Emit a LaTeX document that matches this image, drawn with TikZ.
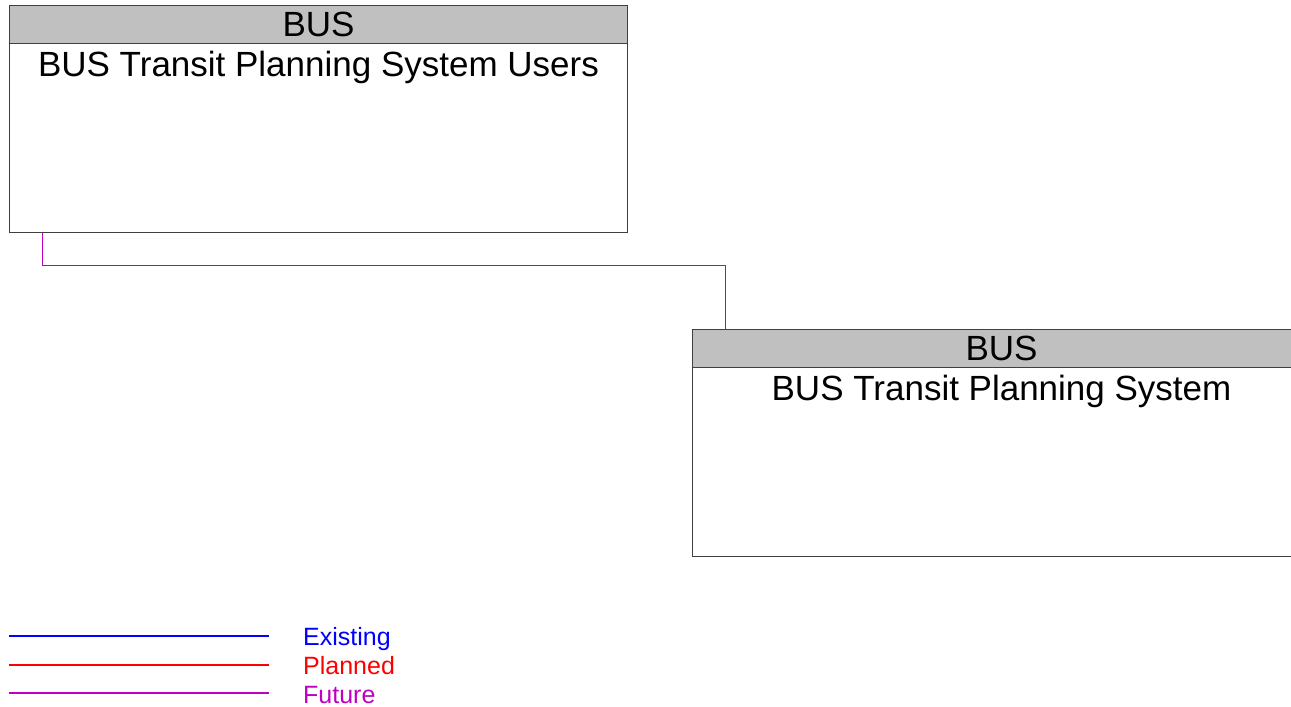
\documentclass[tikz,border=0pt]{standalone}
\usepackage{fontspec}
\setmainfont{Liberation Sans}
\definecolor{hdrgray}{RGB}{192,192,192}
\definecolor{boxline}{RGB}{64,64,64}
\definecolor{existc}{RGB}{0,0,255}
\definecolor{planc}{RGB}{255,0,0}
\definecolor{futc}{RGB}{192,0,192}
\tikzset{
  sysbox/.style={draw=boxline, line width=1pt, fill=white, rectangle, inner sep=0pt, minimum width=618pt, minimum height=227pt},
  hdrbox/.style={draw=boxline, line width=1pt, fill=hdrgray, rectangle, inner sep=0pt, minimum width=618pt, minimum height=38pt},
  bigtext/.style={font=\fontsize{35}{40}\selectfont, inner sep=0pt, text=black},
  legtext/.style={font=\fontsize{25}{29}\selectfont, inner sep=0pt, anchor=base west},
  flowline/.style={line width=1pt},
  legbar/.style={draw=none, inner sep=0pt, minimum width=260pt, minimum height=1.3pt, anchor=west},
}
\begin{document}
\begin{tikzpicture}[x=1pt,y=-1pt]
\useasboundingbox (0,0) rectangle (1291,707);
% upper box
\node[sysbox, anchor=north west] (u) at (9,5) {};
\node[hdrbox, anchor=north] (uh) at (u.north) {};
\node[bigtext, anchor=base] (uhl) at ([yshift=-31.5pt]u.north) {BUS};
\node[bigtext, anchor=base] (ut) at ([yshift=-71pt]u.north) {BUS Transit Planning System Users};
% lower box (runs past the right edge)
\begin{scope}
\clip (0,0) rectangle (1291,707);
\node[sysbox, anchor=north west] (t) at (692,329) {};
\node[hdrbox, anchor=north] (th) at (t.north) {};
\end{scope}
\node[bigtext, anchor=base] (thl) at ([yshift=-31.5pt]t.north) {BUS};
\node[bigtext, anchor=base] (tt) at ([yshift=-71pt]t.north) {BUS Transit Planning System};
% connector
\draw[flowline, futc] ([xshift=33pt]u.south west) -- ++(0,32) -| ([xshift=33pt]th.north west);
% legend
\node[legbar, fill=existc] (be) at (9,636) {};
\node[legbar, fill=planc] (bp) at (9,665) {};
\node[legbar, fill=futc] (bf) at (9,693) {};
\node[legtext, text=existc] (le) at (303,645) {Existing};
\node[legtext, text=planc] (lp) at (303,674) {Planned};
\node[legtext, text=futc] (lf) at (303,703) {Future};
\end{tikzpicture}
\end{document}
